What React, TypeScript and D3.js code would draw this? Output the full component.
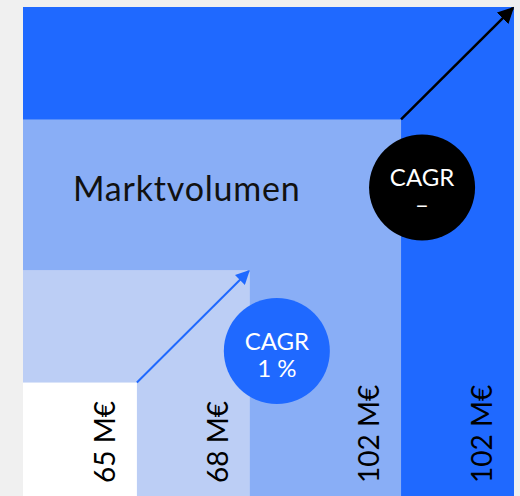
import React from 'react';
import * as d3 from 'd3';

// nested market levels, inner to outer
const levels = ['L1', 'L2', 'L3', 'L4'];
const values = [65, 68, 102, 102];
const valueLabels = values.map(v => `${v} M€`);
// relative extent of each nested square
const extents = [0.232, 0.462, 0.77, 1];
const levelColors = ['#ffffff', '#bccef5', '#89aef6', '#1f69ff'];

// growth badges between levels
const cagrFrom = [0, 2];
const cagrTo = [1, 3];
const cagrText = ['1 %', '–'];
const cagrColors = ['#1f69ff', '#000000'];
const badgeAt = [1, 2]; // level whose corner the badge hangs off

const title = 'Marktvolumen';

const W = 520;
const H = 496;
const left = 23;
const right = 514;
const top = 7;
const bottom = 496;
const font = 'Lato, "Noto Sans", sans-serif';

function App() {
  const ext = d3.scaleOrdinal<string, number>().domain(levels).range(extents);
  const x = d3.scaleLinear().domain([0, 1]).range([left, right]);
  const y = d3.scaleLinear().domain([0, 1]).range([bottom, top]);

  const order = d3.range(levels.length).reverse(); // draw outer first
  const r = 53;
  const badgeOffset = [[27, 81], [21, 68]];

  return (
    <div style={{ position: 'fixed', left: 0, top: 0, width: W, height: H, background: '#f0f0f0' }}>
      <svg width={W} height={H} style={{ display: 'block' }}>
        <defs>
          {cagrColors.map((c, i) => (
            <marker key={i} id={`head${i}`} viewBox="0 0 10 10" refX="9" refY="5"
              markerWidth={i === 0 ? 7 : 6.5} markerHeight={i === 0 ? 7 : 6.5}
              markerUnits="strokeWidth" orient="auto">
              <path d="M0,0 L10,5 L0,10 Z" fill={c} />
            </marker>
          ))}
        </defs>
        {order.map(i => (
          <rect key={levels[i]} x={x(0)} y={y(ext(levels[i]))}
            width={x(ext(levels[i])) - x(0)} height={y(0) - y(ext(levels[i]))}
            fill={levelColors[i]} />
        ))}
        <text x={73} y={201} fontFamily={font} fontSize={34} letterSpacing={0.8} fill="#111">{title}</text>
        {levels.map((l, i) => {
          const tx = x(ext(l)) - 22;
          const ty = bottom - 13;
          return (
            <text key={l} transform={`translate(${tx},${ty}) rotate(-90)`}
              fontFamily={font} fontSize={28} fill="#000">{valueLabels[i]}</text>
          );
        })}
        {cagrText.map((t, i) => {
          const a = levels[cagrFrom[i]];
          const b = levels[cagrTo[i]];
          const c = levels[badgeAt[i]];
          const cx = x(ext(c)) + badgeOffset[i][0];
          const cy = y(ext(c)) + badgeOffset[i][1];
          return (
            <g key={i}>
              <line x1={x(ext(a))} y1={y(ext(a))} x2={x(ext(b)) - 1} y2={y(ext(b)) + 1}
                stroke={cagrColors[i]} strokeWidth={i === 0 ? 2 : 2.5}
                markerEnd={`url(#head${i})`} />
              <circle cx={cx} cy={cy} r={r} fill={cagrColors[i]} />
              <text x={cx} y={cy - 1} textAnchor="middle" fontFamily={font} fontSize={24} fill="#fff">CAGR</text>
              <text x={cx} y={cy + 26} textAnchor="middle" fontFamily={font} fontSize={24} fill="#fff">{t}</text>
            </g>
          );
        })}
      </svg>
    </div>
  );
}

export default App;
